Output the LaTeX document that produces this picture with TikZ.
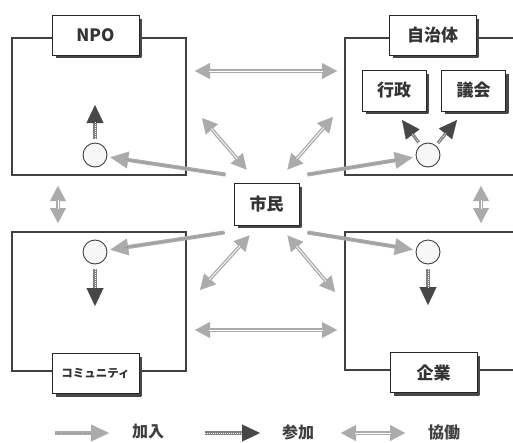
\documentclass[tikz,border=0pt]{standalone}
\usepackage{fontspec}
\setmainfont{Noto Sans CJK JP}
\usetikzlibrary{arrows.meta,calc}
\begin{document}
\begin{tikzpicture}[x=1pt,y=-1pt,
  frame/.style={draw=black!75, line width=1.3pt},
  lbl/.style={draw=black!85, fill=white, line width=0.9pt, minimum width=87pt, minimum height=40pt, inner sep=0pt,
    font=\fontsize{17}{20}\selectfont\bfseries, text=black!80},
  boxshadow/.style={draw=black!72, line width=2.4pt, line join=round},
  sublbl/.style={lbl, minimum width=64pt, minimum height=41pt},
  member/.style={circle, draw=black!75, fill=black!3, minimum size=24pt, inner sep=0pt, line width=0.9pt},
  joinarr/.style={draw=black!33, line width=4pt,
    -{Triangle[length=18pt,width=17pt,fill=black!33,color=black!33,line width=0.2pt]},
    postaction={draw=black!45, line width=1pt, dash pattern=on 1pt off 1.5pt, shorten >=17pt, -}},
  takearr/.style={draw=black!50, line width=3.2pt,
    -{Triangle[length=18pt,width=17pt,fill=black!72,color=black!72,line width=0.2pt]},
    postaction={draw=white, line width=0.6pt, dash pattern=on 1pt off 1pt, shorten >=17pt, -}},
  coarr/.style={draw=black!33, line width=3.5pt,
    {Triangle[length=15pt,width=16pt,fill=black!33,color=black!33,line width=0.2pt]}-{Triangle[length=15pt,width=16pt,fill=black!33,color=black!33,line width=0.2pt]},
    postaction={draw=white, line width=0.8pt, shorten >=14pt, shorten <=14pt, -}},
  legtxt/.style={font=\fontsize{16}{18}\selectfont\bfseries, text=black!75},
]
\useasboundingbox (0,0) rectangle (513,442);
\clip (0,0) rectangle (513,442);
\fill[white] (0,0) rectangle (513,442);

% frames
\draw[frame] (12,38) rectangle (186,175);
\draw[frame] (345,38) rectangle (530,175);
\draw[frame] (12,232) rectangle (186,371);
\draw[frame] (345,232) rectangle (530,370);

% label boxes
\node[lbl] (npo) at (95.5,35) {NPO};
\node[lbl] (jichi) at (432.5,35) {自治体};
\node[sublbl] (gyosei) at (394,90.5) {行政};
\node[sublbl] (gikai) at (473.5,90.5) {議会};
\node[lbl, font=\fontsize{11.5}{14}\selectfont\bfseries] (comm) at (95.5,373.5) {コミュニティ};
\node[lbl] (kigyo) at (433.5,372.5) {企業};
\node[lbl, minimum width=65pt, minimum height=42pt] (shimin) at (266.5,204) {市民};

% box shadows
\foreach \n in {npo,jichi,gyosei,gikai,comm,kigyo,shimin}
  \draw[boxshadow] ([shift={(1.6,4)}]\n.north east) -- ([shift={(1.6,1.6)}]\n.south east) -- ([shift={(4,1.6)}]\n.south west);

% member circles
\node[member] (cnpo) at (95,155) {};
\node[member] (cjichi) at (428,155) {};
\node[member] (ccomm) at (95,252) {};
\node[member] (ckigyo) at (428,252) {};

% targets of inner arrows
\coordinate (tnpo) at (95,105);
\coordinate (tgyosei) at (402,120);
\coordinate (tgikai) at (457,120);
\coordinate (tcomm) at (95,306);
\coordinate (tkigyo) at (428,305);

% inner arrows (participation)
\draw[takearr, shorten <=4pt] (cnpo) -- (tnpo);
\draw[takearr, shorten <=3pt] (cjichi) -- (tgyosei);
\draw[takearr, shorten <=3pt] (cjichi) -- (tgikai);
\draw[takearr, shorten <=5pt] (ccomm) -- (tcomm);
\draw[takearr, shorten <=5pt] (ckigyo) -- (tkigyo);

% joining arrows from citizen
\draw[joinarr, shorten >=3pt] ([shift={(-8,-8)}]shimin.north west) -- (cnpo);
\draw[joinarr, shorten >=3pt] ([shift={(8,-8)}]shimin.north east) -- (cjichi);
\draw[joinarr, shorten >=3pt] ([shift={(-9,7)}]shimin.south west) -- (ccomm);
\draw[joinarr, shorten >=3pt] ([shift={(8,7)}]shimin.south east) -- (ckigyo);

% cooperation arrows
\coordinate (dtl) at (202,118);
\coordinate (dtr) at (333,117);
\coordinate (dbl) at (200,290);
\coordinate (dbr) at (335,292);
\draw[coarr] (dtl) -- ([shift={(13,-13)}]shimin.north west);
\draw[coarr] (dtr) -- ([shift={(-12,-13)}]shimin.north east);
\draw[coarr] (dbl) -- ([shift={(16,10)}]shimin.south west);
\draw[coarr] (dbr) -- ([shift={(-12,10)}]shimin.south east);

\coordinate (htl) at (195,71);
\coordinate (htr) at (337,71);
\coordinate (hbl) at (195,330);
\coordinate (hbr) at (337,330);
\draw[coarr] (htl) -- (htr);
\draw[coarr] (hbl) -- (hbr);

\coordinate (vlt) at (58,186);
\coordinate (vlb) at (58,223);
\coordinate (vrt) at (481,186);
\coordinate (vrb) at (481,223);
\draw[coarr] (vlt) -- (vlb);
\draw[coarr] (vrt) -- (vrb);

% legend
\coordinate (l1a) at (55,433);
\coordinate (l1b) at (109,433);
\coordinate (l2a) at (205,433);
\coordinate (l2b) at (260,433);
\coordinate (l3a) at (341,433);
\coordinate (l3b) at (405,433);
\draw[joinarr] (l1a) -- (l1b);
\draw[takearr] (l2a) -- (l2b);
\draw[coarr] (l3a) -- (l3b);
\node[legtxt] (lg1) at (148,432) {加入};
\node[legtxt] (lg2) at (298,432) {参加};
\node[legtxt] (lg3) at (444,432) {協働};
\end{tikzpicture}
\end{document}
